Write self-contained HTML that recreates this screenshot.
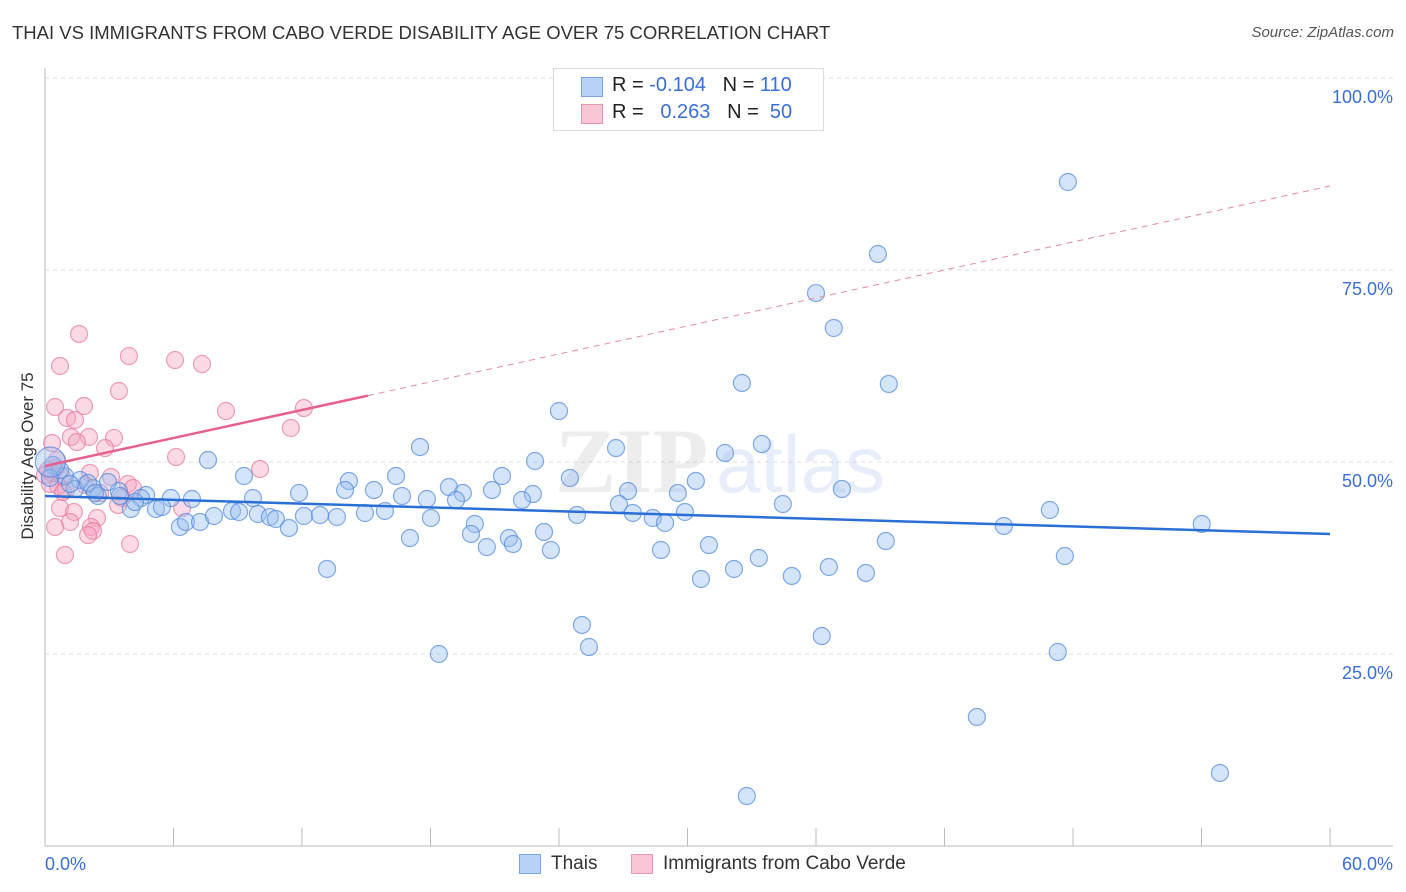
<!DOCTYPE html>
<html><head><meta charset="utf-8"><style>
body{margin:0;background:#fff;font-family:"Liberation Sans",sans-serif;}
#wrap{position:relative;width:1406px;height:892px;overflow:hidden;}
.t{position:absolute;white-space:nowrap;}
</style></head><body>
<div id="wrap">
<div class="t" style="left:12px;top:22px;font-size:18.5px;color:#333;">THAI VS IMMIGRANTS FROM CABO VERDE DISABILITY AGE OVER 75 CORRELATION CHART</div>
<div class="t" style="right:12px;top:24px;font-size:15px;color:#555;font-style:italic;">Source: ZipAtlas.com</div>
<svg id="svg" width="1406" height="892" style="position:absolute;left:0;top:0"></svg>
<div style="position:absolute;left:553px;top:68px;width:269px;height:61px;border:1px solid #ddd;background:#fff;">
<div style="position:absolute;left:27px;top:8px;width:20px;height:18px;background:#b8d3f5;border:1px solid #7aa6e8"></div>
<div class="t" style="left:58px;top:5px;font-size:20px;color:#222">R = <span style="color:#3a6fd8">-0.104</span>&nbsp;&nbsp;&nbsp;N = <span style="color:#3a6fd8">110</span></div>
<div style="position:absolute;left:27px;top:35px;width:20px;height:18px;background:#f9c6d6;border:1px solid #eb98b3"></div>
<div class="t" style="left:58px;top:32px;font-size:20px;color:#222">R = &nbsp;&nbsp;<span style="color:#3a6fd8">0.263</span>&nbsp;&nbsp;&nbsp;N = &nbsp;<span style="color:#3a6fd8">50</span></div>
</div>
<div style="position:absolute;left:519px;top:854px;">
<div style="position:absolute;left:0;top:0;width:20px;height:18px;background:#b8d3f5;border:1px solid #7aa6e8"></div>
<div class="t" style="left:32px;top:-1px;font-size:19px;color:#333">Thais</div></div>
<div style="position:absolute;left:631px;top:854px;">
<div style="position:absolute;left:0;top:0;width:20px;height:18px;background:#f9c6d6;border:1px solid #eb98b3"></div>
<div class="t" style="left:32px;top:-1px;font-size:19px;color:#333">Immigrants from Cabo Verde</div></div>
</div>
<script>
const xTicks=[0,6,12,18,24,30,36,42,48,54,60];
const yTicks=[25,50,75,100];
const yTickLabels=["25.0%","50.0%","75.0%","100.0%"];
const blueX=[47.76,38.89,36.0,36.83,32.54,39.4,24.0,17.51,26.66,33.47,31.75,22.88,7.61,9.29,16.39,21.34,24.51,14.19,18.86,19.51,20.87,27.22,29.55,30.39,37.21,11.86,14.01,15.36,16.67,17.83,19.19,22.78,22.27,26.8,34.45,46.92,44.77,54.01,6.86,5.88,4.72,4.48,3.45,2.94,2.24,1.63,0.93,0.7,0.37,2.47,4.01,5.18,5.46,6.3,6.58,7.24,7.89,8.73,9.06,9.71,9.94,10.5,10.78,11.39,12.09,12.84,13.63,14.94,15.87,18.02,20.07,19.89,20.63,21.66,21.85,23.3,23.62,24.84,27.45,28.38,28.95,29.88,28.76,31.0,30.63,32.17,33.33,34.87,36.6,38.33,39.26,47.62,13.17,17.04,18.39,25.07,25.4,36.27,43.51,47.29,54.86,32.77,1.4,2.01,0.23,1.17,2.33,3.5,4.2,0.25];
const blueY=[86.46,77.08,72.0,67.45,60.29,60.16,56.64,51.95,51.82,52.34,51.17,50.13,50.26,48.18,48.18,48.18,47.92,47.53,46.74,45.96,46.35,46.22,45.96,47.53,46.48,45.96,46.35,46.35,45.57,45.18,45.05,45.83,45.05,44.53,44.53,43.75,41.67,41.93,45.18,45.31,45.7,45.31,46.22,47.4,46.61,47.66,48.18,48.96,49.61,45.57,43.88,43.88,44.14,41.54,42.19,42.19,42.97,43.62,43.49,45.31,43.23,42.84,42.58,41.41,42.97,43.1,42.84,43.36,43.62,42.71,41.93,40.63,38.93,40.1,39.32,40.89,38.54,43.1,43.36,42.71,42.06,43.49,38.54,39.19,34.77,36.07,37.5,35.16,36.33,35.55,39.71,37.76,36.07,40.1,25.0,28.78,25.91,27.34,16.8,25.26,9.51,6.51,46.48,47.27,47.92,47.14,45.96,45.57,44.79,50.0];
const pinkX=[1.59,0.7,3.92,6.07,7.33,3.45,8.45,0.47,1.82,12.09,1.03,1.4,11.48,1.21,2.05,3.22,1.49,0.33,2.8,6.12,10.04,3.08,0.51,0.79,2.1,3.87,4.11,0.23,0.61,0.98,3.59,6.4,0.7,1.35,1.17,2.43,2.15,2.24,2.01,3.97,0.93,0.47,0.14,0.33,0.84,2.57,0.0,0.56,1.87,3.41];
const pinkY=[66.67,62.5,63.8,63.28,62.76,59.24,56.64,57.16,57.29,57.03,55.73,55.47,54.43,53.26,53.26,53.13,52.6,52.47,51.82,50.65,49.09,48.05,49.22,48.05,48.57,47.14,46.61,47.14,46.88,46.35,45.31,44.01,44.01,43.49,42.19,42.71,41.54,41.02,40.49,39.32,37.89,41.54,48.96,48.57,46.09,45.96,48.31,50.26,47.01,44.4];
const blueTrend=[45.57,40.63];
const pinkTrend=[49.48,85.94];
const pinkSolidEnd=15.08;
const X0=45,X1=1330,Y0=846,Y100=78;
const sx=v=>X0+(X1-X0)*v/60, sy=v=>Y0-(Y0-Y100)*v/100;
const svg=document.getElementById('svg');const NS='http://www.w3.org/2000/svg';
function mk(t,a){const e=document.createElementNS(NS,t);for(const k in a)e.setAttribute(k,a[k]);svg.appendChild(e);return e;}
yTicks.forEach((v,i)=>{
 const g=mk('line',{x1:45,x2:1393,y1:sy(v),y2:sy(v),stroke:'#ddd','stroke-dasharray':'4,4'});
 
 
 const t=mk('text',{x:1393,y:sy(v)+25,'text-anchor':'end','font-size':18,fill:'#3a6fd8','font-family':'Liberation Sans'});
 t.textContent=yTickLabels[i];
 
 
});
const ax=mk('line',{x1:45,x2:45,y1:68,y2:846,stroke:'#bbb'});


const bx=mk('line',{x1:45,x2:1393,y1:846,y2:846,stroke:'#bbb'});


xTicks.forEach(v=>{const l=mk('line',{x1:sx(v),x2:sx(v),y1:828,y2:846,stroke:'#bbb'});
 
 });
const xl=mk('text',{x:45,y:870,'font-size':18,fill:'#3a6fd8','font-family':'Liberation Sans'});xl.textContent='0.0%';


const xr=mk('text',{x:1393,y:870,'text-anchor':'end','font-size':18,fill:'#3a6fd8','font-family':'Liberation Sans'});xr.textContent='60.0%';


const yt=mk('text',{x:33,y:456,'text-anchor':'middle','font-size':17,fill:'#333','font-family':'Liberation Sans',transform:'rotate(-90 33 456)'});yt.textContent='Disability Age Over 75';


const wm=mk('text',{x:555,y:492,'font-size':92,fill:'#000','fill-opacity':0.07,'font-family':'Liberation Serif','font-weight':'bold'});wm.textContent='ZIP';


const wm2=mk('text',{x:716,y:492,'font-size':80,fill:'#3a6fd8','fill-opacity':0.12,'font-family':'Liberation Sans'});wm2.textContent='atlas';


pinkX.forEach((x,i)=>{const c=mk('circle',{cx:sx(x),cy:sy(pinkY[i]),r:8.5,fill:'rgba(245,160,190,0.4)',stroke:'rgba(232,120,160,0.7)','stroke-width':1.2});
 
 });
blueX.forEach((x,i)=>{const c=mk('circle',{cx:sx(x),cy:sy(blueY[i]),r:i==blueX.length-1?15:8.5,fill:'rgba(150,190,240,0.4)',stroke:'rgba(80,135,220,0.7)','stroke-width':1.2});
 
 });
const bl=mk('line',{x1:sx(0),x2:sx(60),y1:sy(blueTrend[0]),y2:sy(blueTrend[1]),stroke:'#2a6fd6','stroke-width':2.5});


const pAt=x=>pinkTrend[0]+(pinkTrend[1]-pinkTrend[0])*x/60;
const pd=mk('line',{x1:sx(pinkSolidEnd),x2:sx(60),y1:sy(pAt(pinkSolidEnd)),y2:sy(pinkTrend[1]),stroke:'#e88aa8','stroke-width':1,'stroke-dasharray':'6,5'});


const ps=mk('line',{x1:sx(0),x2:sx(pinkSolidEnd),y1:sy(pinkTrend[0]),y2:sy(pAt(pinkSolidEnd)),stroke:'#e8608e','stroke-width':2.5});


</script>
</body></html>
